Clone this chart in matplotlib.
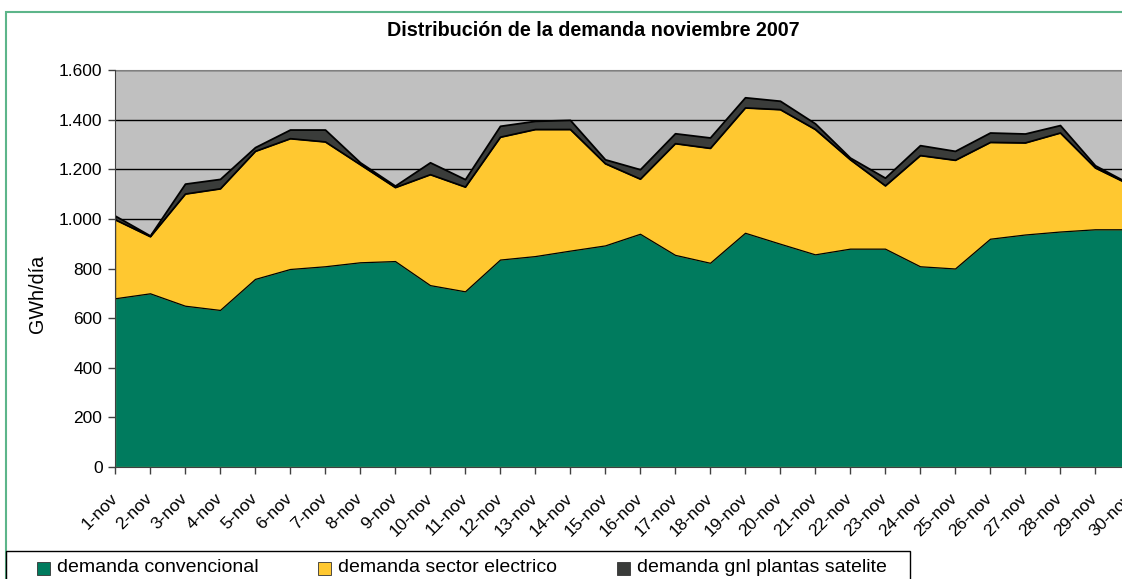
import matplotlib
matplotlib.use("Agg")
import matplotlib.pyplot as plt
from matplotlib.patches import Rectangle
from matplotlib.ticker import FuncFormatter
import matplotlib.transforms as mtransforms
import numpy as np

plt.rcParams['font.family'] = ['Liberation Sans', 'DejaVu Sans']

days = [f"{d}-nov" for d in range(1, 31)]
conv = [680, 700, 650, 633, 758, 798, 809, 825, 830, 733,
        708, 836, 850, 872, 893, 940, 855, 823, 944, 900,
        857, 880, 880, 809, 800, 920, 937, 949, 958, 958]
elec = [318, 230, 452, 490, 516, 527, 503, 395, 298, 447,
        422, 495, 512, 490, 331, 222, 450, 463, 505, 542,
        505, 360, 255, 448, 438, 390, 371, 399, 249, 180]
gnl = [15, 3, 40, 38, 15, 35, 48, 8, 6, 48,
       30, 44, 33, 37, 16, 38, 40, 42, 41, 34,
       23, 7, 31, 40, 36, 38, 36, 30, 9, 3]
series_labels = ["demanda convencional", "demanda sector electrico",
                 "demanda gnl plantas satelite"]
colors = ["#007B5E", "#FFC830", "#3A3C3A"]
edge_colors = ["#A9B84A", "#000000", "#000000"]
edge_widths = [0.9, 0.9, 1.3]
title = "Distribución de la demanda noviembre 2007"
ylabel = "GWh/día"
yticks = [0, 200, 400, 600, 800, 1000, 1200, 1400, 1600]

W, H = 1122, 579
fig = plt.figure(figsize=(W / 100, H / 100), dpi=100)
fig.patch.set_facecolor("white")

def fx(px):
    return px / W

def fy(py):
    return 1 - py / H

# outer chart border
fig.patches.append(Rectangle((fx(6), -0.5), 2, fy(12) + 0.5, transform=fig.transFigure,
                             fill=False, edgecolor="#5DB58A", linewidth=1.5))

ax = fig.add_axes([fx(115), fy(467), fx(1130) - fx(115), fy(70) - fy(467)])
ax.set_facecolor("#C0C0C0")
x = np.arange(len(days))
ax.set_xlim(0, len(days) - 1)
ax.set_ylim(0, 1600)

for yv in yticks[1:]:
    ax.axhline(yv, color="black", linewidth=1.0, zorder=1)

stacks = ax.stackplot(x, conv, elec, gnl, colors=colors, zorder=2)
for poly, ec, lw in zip(stacks, edge_colors, edge_widths):
    poly.set_edgecolor(ec)
    poly.set_linewidth(lw)

ax.set_yticks(yticks)
ax.yaxis.set_major_formatter(FuncFormatter(lambda v, p: f"{int(v):,}".replace(",", ".")))
ax.set_xticks(x)
ax.set_xticklabels(days, rotation=45, ha="right", va="center", rotation_mode="anchor")
offset = mtransforms.ScaledTranslation(-3 / 100, 0, fig.dpi_scale_trans)
for lab in ax.get_xticklabels():
    lab.set_transform(lab.get_transform() + offset)
ax.tick_params(axis="x", length=5, width=1, color="#404040", labelsize=12.5, pad=16)
ax.tick_params(axis="y", length=5, width=1, color="#404040", labelsize=12.5, pad=4)
ax.spines["right"].set_visible(False)
ax.spines["top"].set_color("#808080")
ax.spines["left"].set_color("#404040")
ax.spines["bottom"].set_color("#404040")
ax.spines["left"].set_zorder(5)

fig.text(fx(593), fy(31), title, ha="center", va="center", fontsize=14.2, fontweight="bold")
fig.text(fx(37), fy(294), ylabel, ha="center", va="center", rotation=90, fontsize=14.2)

# legend box
fig.patches.append(Rectangle((fx(6), -0.5), fx(910) - fx(6), fy(551) + 0.5,
                             transform=fig.transFigure, fill=False,
                             edgecolor="black", linewidth=1))
leg_x = [37, 318, 617]
for lx, lab, col in zip(leg_x, series_labels, colors):
    fig.patches.append(Rectangle((fx(lx), fy(575)), fx(13), fy(562) - fy(575),
                                 transform=fig.transFigure, facecolor=col,
                                 edgecolor="#333333", linewidth=0.6))
    fig.text(fx(lx + 20), fy(568), lab, ha="left", va="center", fontsize=14)

fig.savefig("out.png", dpi=100)
